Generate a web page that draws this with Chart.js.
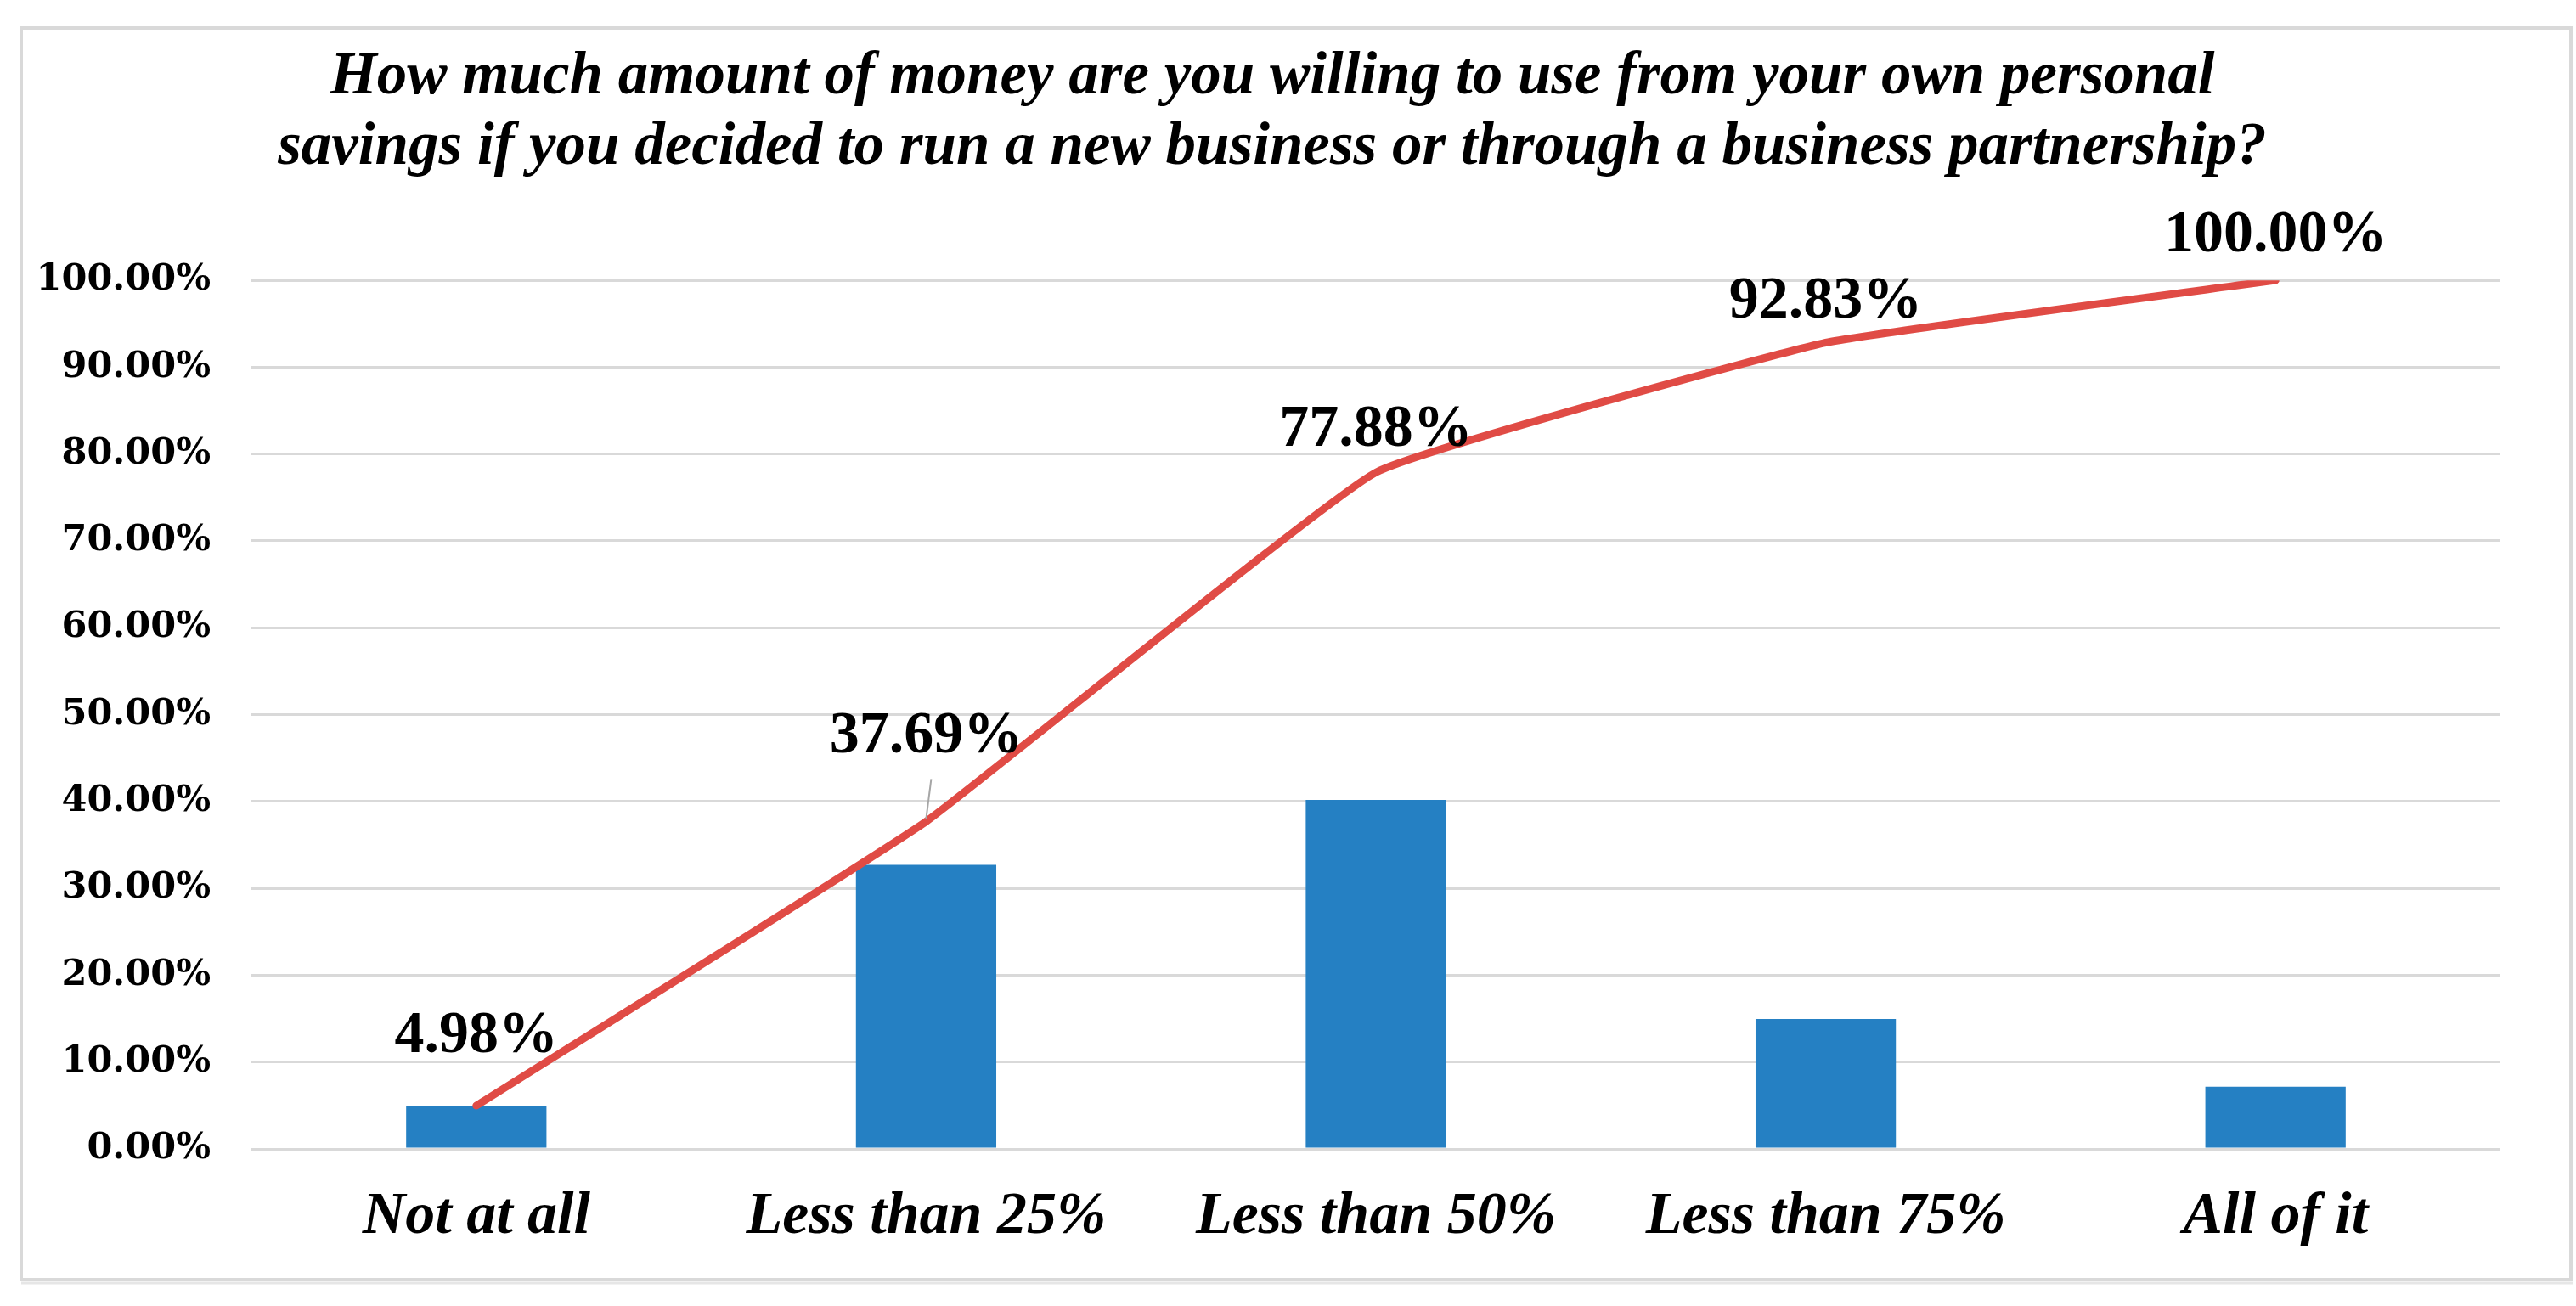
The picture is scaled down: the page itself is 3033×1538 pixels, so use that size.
<!DOCTYPE html>
<html>
<head>
<meta charset="utf-8">
<script src="https://cdn.jsdelivr.net/npm/chart.js@4.4.1/dist/chart.umd.min.js"></script>
<style>
  html, body { margin: 0; padding: 0; background: #fff; overflow: hidden; }
</style>
</head>
<body>
<canvas id="myChart" width="3033" height="1538"></canvas>
<script>
// data
const categories = ['Not at all', 'Less than 25%', 'Less than 50%', 'Less than 75%', 'All of it'];
const shareValues = [4.98, 32.71, 40.19, 14.95, 7.17];
const cumulativeValues = [4.98, 37.69, 77.88, 92.83, 100.00];
const yTicks = [0, 10, 20, 30, 40, 50, 60, 70, 80, 90, 100];

const titleLines = [
  'How much amount of money are you willing to use from your own personal',
  'savings if you decided to run a new business or through a business partnership?'
];

// how far each line label sits above its point
const labelLift = [81, 100, 49, 48, 52];

const serif = '"Liberation Serif", "Times New Roman", serif';

const framePlugin = {
  id: 'frame',
  afterLayout(chart) {
    // title is centred a little left of the canvas middle
    chart.titleBlock.left = 52;
  },
  beforeDraw(chart) {
    const c = chart.ctx;
    c.save();
    c.fillStyle = '#fff';
    c.fillRect(0, 0, chart.width, chart.height);
    c.strokeStyle = '#d9d9d9';
    c.lineWidth = 4;
    c.strokeRect(25, 33, 3002, 1474);
    c.strokeStyle = '#e6e6e6';
    c.lineWidth = 3;
    c.beginPath();
    c.moveTo(25, 1511);
    c.lineTo(3029, 1511);
    c.stroke();
    c.restore();
  }
};

const lineLabels = {
  id: 'lineLabels',
  afterDatasetsDraw(chart) {
    const c = chart.ctx;
    const meta = chart.getDatasetMeta(1);
    c.save();
    c.font = 'bold 70px ' + serif;
    c.fillStyle = '#000';
    c.textAlign = 'center';
    c.textBaseline = 'middle';
    meta.data.forEach(function (pt, i) {
      const lift = labelLift[i];
      if (lift > 90) {
        c.strokeStyle = '#a6a6a6';
        c.lineWidth = 2;
        c.beginPath();
        c.moveTo(pt.x + 6, pt.y - lift + 50);
        c.lineTo(pt.x, pt.y - 3);
        c.stroke();
      }
      c.fillText(cumulativeValues[i].toFixed(2) + '%', pt.x, pt.y - lift);
    });
    c.restore();
  }
};

const ctx = document.getElementById('myChart');

new Chart(ctx, {
  data: {
    labels: categories,
    datasets: [{
      type: 'bar',
      label: 'Share',
      data: shareValues,
      backgroundColor: '#2580c3',
      barPercentage: 1,
      categoryPercentage: 0.312,
      order: 2
    }, {
      type: 'line',
      label: 'Cumulative',
      data: cumulativeValues,
      borderColor: '#e04b45',
      borderWidth: 9,
      borderCapStyle: 'round',
      borderJoinStyle: 'round',
      pointRadius: 0,
      tension: 0.1,
      order: 1
    }]
  },
  options: {
    responsive: false,
    animation: false,
    devicePixelRatio: 1,
    layout: {
      padding: { left: 0, right: 89, top: 0, bottom: 0 }
    },
    plugins: {
      legend: { display: false },
      tooltip: { enabled: false },
      title: {
        display: true,
        text: titleLines,
        color: '#000',
        font: { family: serif, size: 71, weight: 'bold', style: 'italic', lineHeight: 1.17 },
        padding: { top: 50, bottom: 114 }
      }
    },
    scales: {
      x: {
        grid: { display: false, drawTicks: false },
        border: { display: false },
        ticks: {
          color: '#000',
          padding: 39,
          font: { family: serif, size: 70, weight: 'bold', style: 'italic' }
        },
        afterFit(scale) { scale.height = 185; }
      },
      y: {
        min: 0,
        max: 100,
        afterBuildTicks(scale) {
          scale.ticks = yTicks.map(function (v) { return { value: v }; });
        },
        grid: { color: '#d9d9d9', lineWidth: 3, drawTicks: false },
        border: { display: false },
        ticks: {
          color: '#000',
          padding: 48,
          font: { family: '"DejaVu Serif", serif', size: 43, weight: 'bold' },
          callback: function (v) { return v.toFixed(2) + '%'; }
        },
        afterFit(scale) { scale.width = 296; }
      }
    }
  },
  plugins: [framePlugin, lineLabels]
});
</script>
</body>
</html>
